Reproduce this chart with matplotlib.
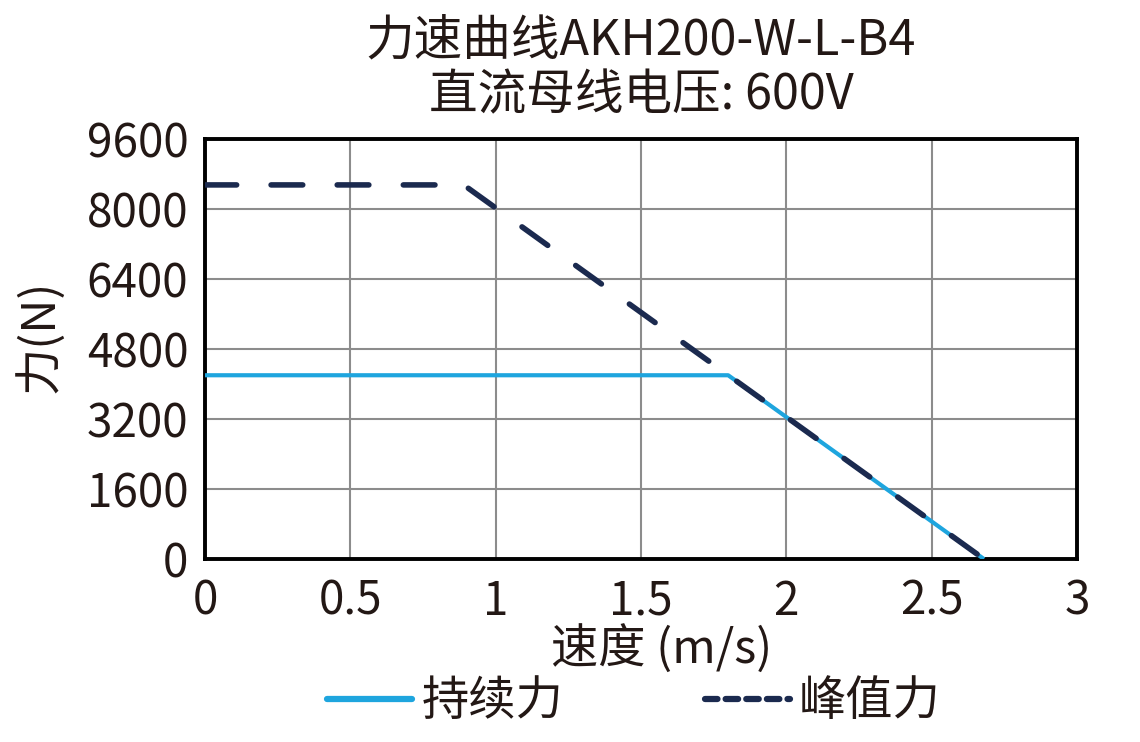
import numpy as np
import matplotlib
matplotlib.use("Agg")
import matplotlib.pyplot as plt
from matplotlib.lines import Line2D

plt.rcParams['font.family'] = ['Noto Sans CJK SC', 'DejaVu Sans']

# 数据
cont_speed = [0.0, 1.80, 2.68]
cont_force = [4200, 4200, 0]
peak_speed = [0.0, 0.89, 2.68]
peak_force = [8550, 8550, 0]

x_ticks = [0, 0.5, 1, 1.5, 2, 2.5, 3]
x_ticklabels = ["0", "0.5", "1", "1.5", "2", "2.5", "3"]
y_ticks = [0, 1600, 3200, 4800, 6400, 8000, 9600]

title = "力速曲线AKH200-W-L-B4\n直流母线电压: 600V"
text_col = "#231815"
cont_col = "#1EA5DE"
peak_col = "#1B2A4F"
fs = 33

fig = plt.figure(figsize=(11.4, 7.42), dpi=100)
ax = fig.add_axes([0.1798, 0.2466, 0.7649, 0.5661])

ax.plot(cont_speed, cont_force, color=cont_col, lw=3.0, solid_capstyle="butt", zorder=3)
ax.plot(peak_speed, peak_force, color=peak_col, lw=4.0, linestyle=(0, (5.7, 6.2)),
        dash_capstyle="round", zorder=4)

ax.set_xlim(0, 3)
ax.set_ylim(0, 9600)
ax.set_xticks(x_ticks)
ax.set_xticklabels(x_ticklabels)
ax.set_yticks(y_ticks)
ax.tick_params(axis="both", length=0, labelsize=fs, colors=text_col)
ax.tick_params(axis="x", pad=13)
ax.tick_params(axis="y", pad=12)
ax.grid(True, color="#8c8c8c", lw=1.5)
ax.set_axisbelow(True)
for s in ax.spines.values():
    s.set_linewidth(2.8)
    s.set_color("black")

ax.set_xlabel("速度 (m/s)", fontsize=34, color=text_col)
ax.xaxis.set_label_coords(0.524, -0.16)
ax.set_ylabel("力(N)", fontsize=34, color=text_col)
ax.yaxis.set_label_coords(-0.161, 0.53)
fig.text(0.5623, 0.978, title, ha="center", va="top", fontsize=35, color=text_col,
         linespacing=1.12)

handles = [
    Line2D([], [], color=cont_col, lw=4.5, solid_capstyle="round"),
    Line2D([], [], color=peak_col, lw=4.5, linestyle=(0, (2.0, 1.3)), dash_capstyle="round"),
]
leg = fig.legend(handles, ["持续力", "峰值力"], loc="lower center", ncol=2,
                 bbox_to_anchor=(0.556, -0.036), frameon=False, fontsize=34,
                 handlelength=1.8, handletextpad=0.2, columnspacing=3.0)
for t in leg.get_texts():
    t.set_color(text_col)

fig.savefig("out.png", dpi=100)
